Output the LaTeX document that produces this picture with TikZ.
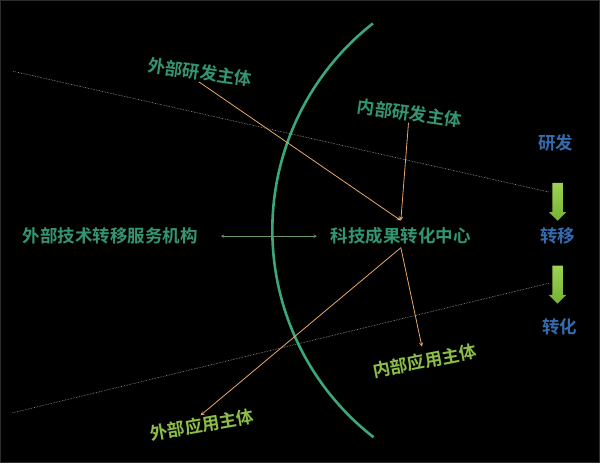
\documentclass[tikz,border=0pt]{standalone}
\usepackage{fontspec}
\usepackage{xcolor}
\usetikzlibrary{
  arrows,
  shapes,
  positioning
}
\newfontfamily\cjk{Noto Sans CJK SC}[BoldFont={Noto Sans CJK SC Bold}]
\definecolor{rdgreen}{RGB}{52,150,112}
\definecolor{usegreen}{RGB}{140,190,72}
\definecolor{stageblue}{RGB}{52,108,176}
\definecolor{arcgreen}{RGB}{58,168,122}
\definecolor{flowtan}{RGB}{234,168,104}

\begin{document}
\begin{tikzpicture}[x=1pt, y=-1pt,
  every node/.style = {font=\cjk\bfseries\fontsize{17.5}{20}\selectfont,
    inner sep=1pt},
  rd/.style = {text=rdgreen},
  use/.style = {text=usegreen},
  stage/.style = {text=stageblue},
  flow/.style = {draw=flowtan, line width=0.8pt, -stealth},
  edge/.style = {draw=gray!70, line width=0.6pt, densely dotted},
  downarrow/.style = {single arrow, shape border rotate=270,
    minimum height=38pt, minimum width=17pt, inner sep=5pt,
    single arrow head extend=3.5pt, draw=none,
    top color={rgb,255:red,158;green,210;blue,84},
    bottom color={rgb,255:red,118;green,178;blue,52}}]
    \tikzstyle{bg}=[fill=black, draw={rgb,255:red,45;green,45;blue,45}, line width=1pt]
  \useasboundingbox[bg] (0,0) rectangle (600,463);

  % boundary
  \coordinate (arctop) at (373,23);
  \draw[arcgreen, line width=2.6pt] (arctop)
    arc[start angle=231.9, end angle=127.9, radius=263];

  % dotted field lines
  \coordinate (t1) at (13,71);
  \coordinate (t2) at (550,192);
  \coordinate (b1) at (12,413);
  \coordinate (b2) at (550,283);
  \draw[edge] (t1) -- (t2);
  \draw[edge] (b1) -- (b2);

  \node[rd] (agency) at (110,236) {外部技术转移服务机构};
  \node[rd] (hub) at (401,236) {科技成果转化中心};
  \node[rd, rotate=-8] (extrd) at (200,72) {外部研发主体};
  \node[rd, rotate=-8] (intrd) at (410,113) {内部研发主体};
  \node[use, rotate=10] (extuse) at (202,425) {外部应用主体};
  \node[use, rotate=11] (intuse) at (425,361) {内部应用主体};

  \node[stage] (research) at (556,143) {研发};
  \node[stage] (transfer) at (558,236) {转移};
  \node[stage] (convert) at (560,327) {转化};
  \node[downarrow] (step1) at (558,199) {};
  \node[downarrow] (step2) at (558,282) {};

  \coordinate[above=6pt of hub] (hubin);
  \coordinate[below=2pt of hub] (hubout);
  \draw[flow] (extrd.south) -- (hubin);
  \draw[flow] (intrd.south) -- (hubin);
  \draw[flow] (hubout) -- (extuse.north);
  \draw[flow, shorten >=5pt] (hubout) -- (intuse.north);
  \draw[{stealth}-{stealth}, draw=gray!80!green, line width=0.5pt,
    shorten <=22pt, shorten >=13pt] (agency.east) -- (hub.west);
\end{tikzpicture}
\end{document}
